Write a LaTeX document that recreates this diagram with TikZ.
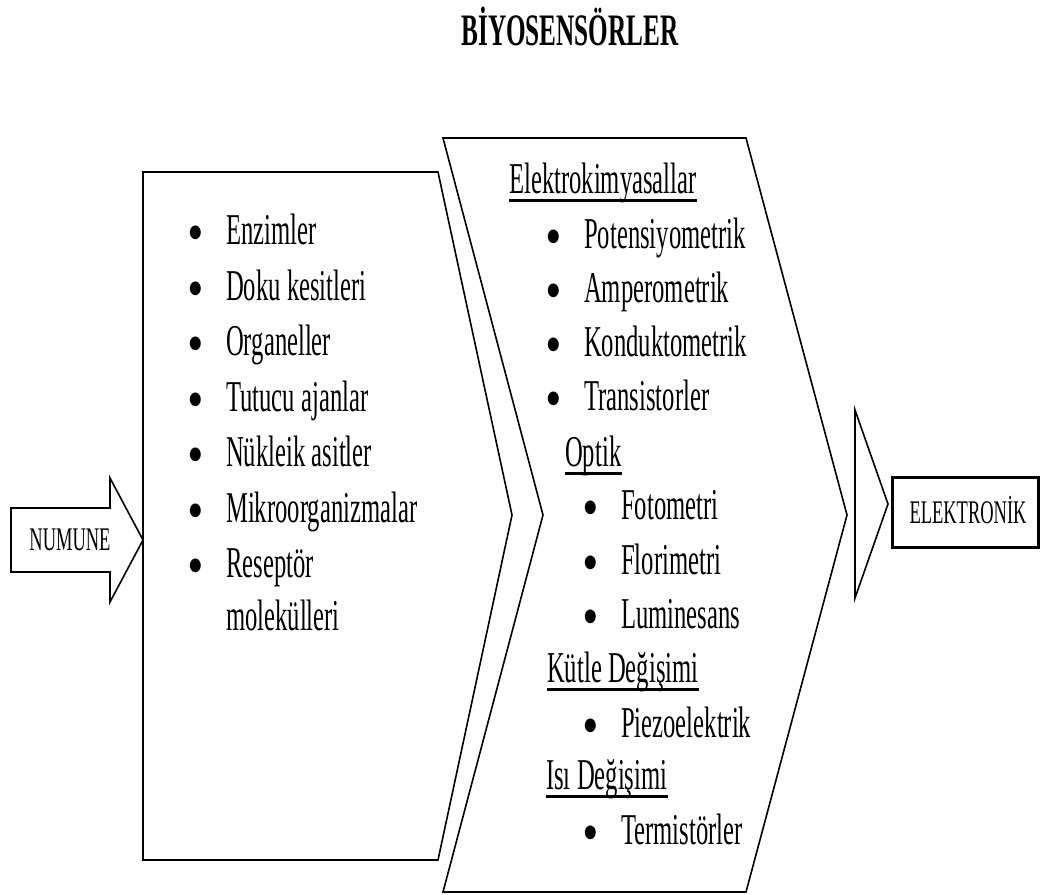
\documentclass[tikz,border=0pt]{standalone}
\usepackage{fontspec}
\setmainfont[FakeStretch=0.56]{Liberation Serif}
\newfontfamily\bulfont[FakeStretch=0.8]{DejaVu Sans}
\newcommand\itm[1]{\makebox[37pt][l]{\raisebox{6.5pt}{\bulfont\fontsize{18}{19}\selectfont ●}}#1}
\begin{document}
\begin{tikzpicture}[x=1pt,y=-1pt,
  shape line/.style={draw=black,line width=1.6pt,line join=miter},
  txt/.style={anchor=base west,inner sep=0pt,font=\fontsize{44}{53}\selectfont},
  ul/.style={line width=3pt},
  smalltxt/.style={inner sep=0pt,font=\fontsize{33}{38}\selectfont}]
\useasboundingbox (0,0) rectangle (1041,894);
% title
\node[anchor=base,inner sep=0pt,font=\fontsize{45}{54}\selectfont\bfseries] (title) at (570,45) {BİYOSENSÖRLER};
% shapes
\draw[shape line] (143,172) -- (438,172) -- (512,515) -- (438,860) -- (143,860) -- cycle;
\draw[shape line] (443,138) -- (746,138) -- (847,515) -- (746,892) -- (443,892) -- (543,515) -- cycle;
\draw[shape line] (855,410) -- (888,504) -- (855,598) -- cycle;
\draw[shape line] (11,508) -- (110,508) -- (110,478) -- (143,540) -- (110,602) -- (110,572) -- (11,572) -- cycle;
\node[smalltxt,anchor=base] (numune) at (70,550) {NUMUNE};
\node[draw,line width=2.8pt,minimum width=146pt,minimum height=70pt,inner sep=0pt] (elek) at (965.5,512.5) {};
\node[smalltxt,anchor=base] (elektxt) at (968,523) {ELEKTRONİK};
% left list
\node[txt] (l1) at (189,244) {\itm{Enzimler}};
\node[txt] (l2) at (189,300) {\itm{Doku kesitleri}};
\node[txt] (l3) at (189,355) {\itm{Organeller}};
\node[txt] (l4) at (189,411) {\itm{Tutucu ajanlar}};
\node[txt] (l5) at (189,466) {\itm{Nükleik asitler}};
\node[txt] (l6) at (189,522) {\itm{Mikroorganizmalar}};
\node[txt] (l7) at (189,577) {\itm{Reseptör}};
\node[txt] (l7b) at (226,630) {molekülleri};
% right list
\node[txt] (h1) at (509,193) {Elektrokimyasallar};
\node[txt] (r1) at (547,248) {\itm{Potensiyometrik}};
\node[txt] (r2) at (547,302) {\itm{Amperometrik}};
\node[txt] (r3) at (547,356) {\itm{Konduktometrik}};
\node[txt] (r4) at (547,410) {\itm{Transistorler}};
\node[txt] (h2) at (565,466) {Optik};
\node[txt] (r5) at (584,519) {\itm{Fotometri}};
\node[txt] (r6) at (584,574) {\itm{Florimetri}};
\node[txt] (r7) at (584,628) {\itm{Luminesans}};
\node[txt] (h3) at (547,682) {Kütle Değişimi};
\node[txt] (r8) at (584,737) {\itm{Piezoelektrik}};
\node[txt] (h4) at (546,789) {Isı Değişimi};
\node[txt] (r9) at (584,844) {\itm{Termistörler}};
% underlines
\foreach \h in {h1,h2,h3,h4}
  \draw[ul] ([yshift=-7pt]\h.base west) -- ([yshift=-7pt]\h.base east);
\end{tikzpicture}
\end{document}
